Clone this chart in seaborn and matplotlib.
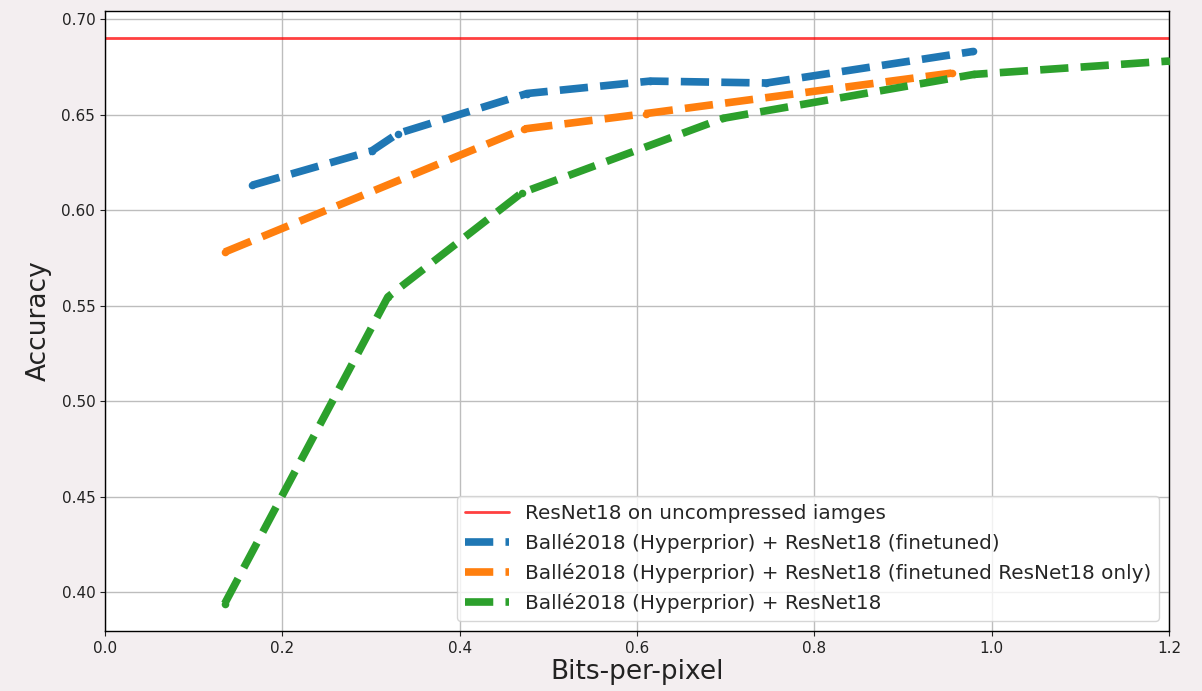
import matplotlib
matplotlib.use("Agg")
import matplotlib.pyplot as plt
import seaborn as sns

# Rate-accuracy results (bits-per-pixel vs. top-1 accuracy)
baseline_acc = 0.69

bpp_finetuned = [0.166, 0.301, 0.330, 0.476, 0.615, 0.746, 0.979]
acc_finetuned = [0.613, 0.631, 0.640, 0.661, 0.6675, 0.6665, 0.683]

bpp_resnet_only = [0.135, 0.472, 0.610, 0.955]
acc_resnet_only = [0.578, 0.6424, 0.6505, 0.6717]

bpp_plain = [0.135, 0.319, 0.470, 0.697, 0.980, 1.20]
acc_plain = [0.394, 0.5545, 0.609, 0.648, 0.671, 0.678]

labels = [
    "ResNet18 on uncompressed iamges",
    "Ballé2018 (Hyperprior) + ResNet18 (finetuned)",
    "Ballé2018 (Hyperprior) + ResNet18 (finetuned ResNet18 only)",
    "Ballé2018 (Hyperprior) + ResNet18",
]
colors = ["#1f77b4", "#ff7f0e", "#2ca02c"]

sns.set_style("ticks")
plt.rcParams["font.family"] = ["DejaVu Sans"]
plt.rcParams["lines.dash_capstyle"] = "butt"

fig = plt.figure(figsize=(12.02, 6.91), dpi=100, facecolor="#f3eef0")
ax = fig.add_axes([0.0874, 0.0868, 0.8851, 0.8973])
ax.set_facecolor("white")

ax.axhline(baseline_acc, color="red", alpha=0.75, lw=2, label=labels[0])

series = [
    (bpp_finetuned, acc_finetuned),
    (bpp_resnet_only, acc_resnet_only),
    (bpp_plain, acc_plain),
]
for (xs, ys), lab, col in zip(series, labels[1:], colors):
    n_before = len(ax.lines)
    sns.lineplot(x=xs, y=ys, ax=ax, sort=False, color=col, label=lab,
                 lw=5.5, errorbar=None)
    for line in ax.lines[n_before:]:
        line.set_dashes((3.7, 1.6))
        line.set_dash_capstyle("butt")
    # small dots at the measured rate points
    sns.scatterplot(x=xs, y=ys, ax=ax, color=col, s=30, linewidth=0,
                    legend=False, zorder=3)

ax.set_xlim(0.0, 1.2)
ax.set_ylim(0.3796, 0.7042)
ax.set_xticks([0.0, 0.2, 0.4, 0.6, 0.8, 1.0, 1.2])
ax.set_yticks([0.40, 0.45, 0.50, 0.55, 0.60, 0.65, 0.70])
ax.set_xticklabels(["0.0", "0.2", "0.4", "0.6", "0.8", "1.0", "1.2"])
ax.set_yticklabels(["0.40", "0.45", "0.50", "0.55", "0.60", "0.65", "0.70"])
ax.grid(True, color="#bdbdbd", lw=1)
ax.tick_params(labelsize=11, colors="#222222", length=3.5, width=0.8)
for sp in ax.spines.values():
    sp.set_color("black")
    sp.set_linewidth(1)

ax.set_xlabel("Bits-per-pixel", fontsize=19, color="#222222", labelpad=2)
ax.set_ylabel("Accuracy", fontsize=19, color="#222222", labelpad=7)

ax.legend(loc="lower right", fontsize=14.4, frameon=True, framealpha=0.8,
          handlelength=2.2)

fig.savefig("out.png", dpi=100, facecolor=fig.get_facecolor())
